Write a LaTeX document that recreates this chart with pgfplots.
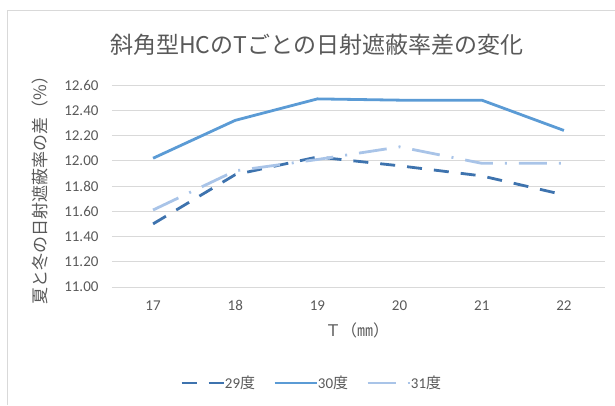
\documentclass[border=0pt]{standalone}
\usepackage{fontspec}
\setmainfont{Carlito}
\newfontfamily\cjk{Noto Sans CJK JP}
\usepackage{pgfplots}
\pgfplotsset{compat=1.18}
\definecolor{c29}{HTML}{3E73AE}
\definecolor{c30}{HTML}{5B9BD5}
\definecolor{c31}{HTML}{A9C4E8}
\definecolor{txt}{HTML}{595959}
\definecolor{grd}{HTML}{D9D9D9}
\begin{document}
\begin{tikzpicture}
\path[use as bounding box] (0pt,0pt) rectangle (615pt,405pt);
\draw[grd, line width=0.8pt] (7pt,0pt) -- (7pt,395pt) -- (615pt,395pt);
\coordinate (A) at (112pt,118pt);
\begin{axis}[
  at={(A)}, anchor=south west,
  scale only axis, width=493pt, height=202pt,
  xmin=16.5, xmax=22.5, ymin=11, ymax=12.6,
  xtick={17,18,19,20,21,22},
  ytick={11,11.2,11.4,11.6,11.8,12,12.2,12.4,12.6},
  yticklabel style={/pgf/number format/.cd, fixed, fixed zerofill, precision=2, /tikz/.cd},
  /pgf/number format/assume math mode=true,
  ymajorgrids, grid style={grd, line width=0.8pt},
  axis line style={draw=none},
  major tick length=0pt,
  tick label style={font=\fontsize{15}{17}\selectfont, text=txt},
  yticklabel style={xshift=-10pt},
  xticklabel style={yshift=-10pt},
  legend style={at={(0.405,-0.475)}, anchor=center, draw=none, fill=none,
    legend columns=3, font=\fontsize{15}{17}\selectfont\color{txt},
    /tikz/every even column/.append style={column sep=16pt},
    /tikz/every odd column/.append style={column sep=-2pt}},
  legend image code/.code={\draw[#1] (0pt,0pt) -- (42pt,0pt);},
  clip=false,
]
\addplot[c29, line width=2.8pt, dash pattern=on 15pt off 12pt] coordinates {
(17,11.50) (18,11.89) (19,12.03) (20,11.96) (21,11.88) (22,11.73)};
\addlegendentry{29{\cjk 度}}
\addplot[c30, line width=2.8pt] coordinates {
(17,12.02) (18,12.32) (19,12.49) (20,12.48) (21,12.48) (22,12.24)};
\addlegendentry{30{\cjk 度}}
\addplot[c31, line width=2.8pt, dash pattern=on 28pt off 12pt on 2pt off 12pt] coordinates {
(17,11.61) (18,11.92) (19,12.01) (20,12.11) (21,11.98) (22,11.98)};
\addlegendentry{31{\cjk 度}}
\node[text=txt, font=\cjk\fontsize{23}{26}\selectfont] at (axis description cs:0.415,1.198) {斜角型HCのTごとの日射遮蔽率差の変化};
\node[text=txt, font=\cjk\fontsize{16}{18}\selectfont] at (axis description cs:0.497,-0.213) {Ｔ（㎜）};
\node[text=txt, font=\cjk\fontsize{17}{19}\selectfont, rotate=90] at (axis description cs:-0.146,0.5) {夏と冬の日射遮蔽率の差（\%）};
\end{axis}
\end{tikzpicture}
\end{document}
